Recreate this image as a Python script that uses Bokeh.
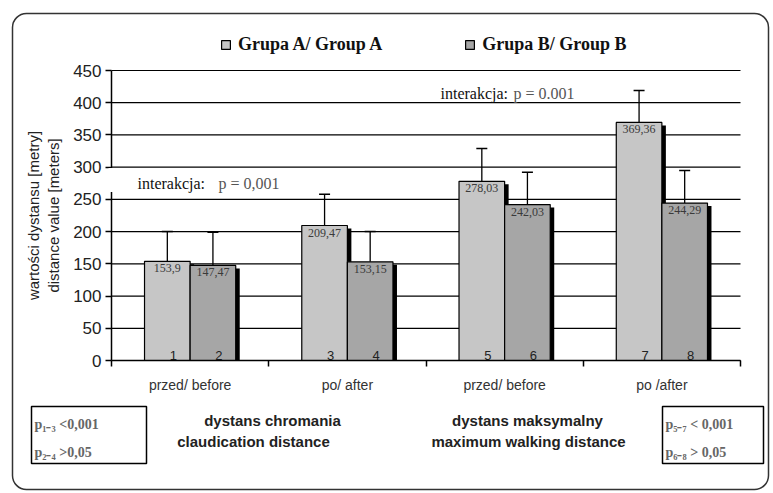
from bokeh.plotting import figure
from bokeh.models import (ColumnDataSource, Whisker, TeeHead, Legend, LegendItem,
                          Label, BoxAnnotation, FixedTicker, Range1d)
from bokeh.core.properties import value
from bokeh.embed import file_html
from bokeh.resources import INLINE

# ---- data ----
categories = ["przed/ before", "po/ after", "przed/ before", "po /after"]
series_names = ["Grupa A/ Group A", "Grupa B/ Group B"]
group_a = [153.9, 209.47, 278.03, 369.36]
group_b = [147.47, 153.15, 242.03, 244.29]
err_top_a = [200, 258, 329, 419]
err_top_b = [199, 200, 292, 295]
bar_numbers_a = ["1", "3", "5", "7"]
bar_numbers_b = ["2", "4", "6", "8"]
y_ticks = [0, 50, 100, 150, 200, 250, 300, 350, 400, 450]
section_titles = [["dystans chromania", "claudication distance"],
                  ["dystans maksymalny", "maximum walking distance"]]
p_left = ["p\u2081\u208b\u2083 <0,001", "p\u2082\u208b\u2084 >0,05"]
p_right = ["p\u2085\u208b\u2087 < 0,001", "p\u2086\u208b\u2088 > 0,05"]
interaction = ["interakcja:", "p = 0,001", "p = 0.001"]

# ---- geometry (canvas px) ----
W, H = 773, 493
FL, FR, FT, FB = 111, 740, 70, 360     # plot area inside the canvas
NCAT = len(categories)
YMAX = y_ticks[-1]


def dx(cx):
    return (cx - FL) / (FR - FL) * NCAT


def dy(cy):
    return (FB - cy) / (FB - FT) * YMAX


BW = 0.29
centers = [i + 0.5 for i in range(NCAT)]
xa = [c - BW / 2 for c in centers]
xb = [c + BW / 2 for c in centers]
sh_x = 4 / (FR - FL) * NCAT
sh_y = 3 / (FB - FT) * YMAX


def fmt(v):
    return ("%g" % v).replace(".", ",")


src_a = ColumnDataSource(dict(x=xa, top=group_a, err=err_top_a,
                              lbl=[fmt(v) for v in group_a], num=bar_numbers_a,
                              sx=[x + sh_x for x in xa], stop=[v - sh_y for v in group_a]))
src_b = ColumnDataSource(dict(x=xb, top=group_b, err=err_top_b,
                              lbl=[fmt(v) for v in group_b], num=bar_numbers_b,
                              sx=[x + sh_x for x in xb], stop=[v - sh_y for v in group_b]))

# the frame covers the whole canvas; axes are pinned at x=0 / y=0
p = figure(width=W, height=H, output_backend="svg", toolbar_location=None,
           x_range=Range1d(dx(0), dx(W)), y_range=Range1d(dy(H), dy(0)),
           min_border=0)
p.outline_line_color = None
p.background_fill_color = "white"
p.border_fill_color = "white"
p.grid.visible = False

# horizontal grid lines over the plot area
p.segment(x0=[0] * len(y_ticks), x1=[NCAT] * len(y_ticks), y0=y_ticks, y1=y_ticks,
          line_color="black", line_width=1.2)

# y axis
p.yaxis.fixed_location = 0
p.yaxis.bounds = (0, YMAX)
p.yaxis.ticker = FixedTicker(ticks=y_ticks)
p.yaxis.axis_line_color = "black"
p.yaxis.axis_line_width = 1.5
p.yaxis.major_tick_out = 6
p.yaxis.major_tick_in = 0
p.yaxis.major_tick_line_width = 1.5
p.yaxis.minor_tick_line_color = None
p.yaxis.major_label_text_font = "Liberation Sans"
p.yaxis.major_label_text_font_size = "17px"
p.yaxis.major_label_text_color = "#222222"
p.yaxis.major_label_standoff = 4
p.yaxis.axis_label = "wartości dystansu [metry]\ndistance value [meters]"
p.yaxis.axis_label_text_font = "Liberation Sans"
p.yaxis.axis_label_text_font_style = "normal"
p.yaxis.axis_label_text_font_size = "15px"
p.yaxis.axis_label_text_color = "#222222"
p.yaxis.axis_label_standoff = 8

# x axis
p.xaxis.fixed_location = 0
p.xaxis.bounds = (0, NCAT)
p.xaxis.ticker = FixedTicker(ticks=centers, minor_ticks=list(range(NCAT + 1)))
p.xaxis.major_label_overrides = {c: lab for c, lab in zip(centers, categories)}
p.xaxis.axis_line_color = "black"
p.xaxis.axis_line_width = 1.5
p.xaxis.major_tick_out = 0
p.xaxis.major_tick_in = 0
p.xaxis.minor_tick_out = 6
p.xaxis.minor_tick_in = 0
p.xaxis.minor_tick_line_color = "black"
p.xaxis.minor_tick_line_width = 1.5
p.xaxis.major_label_text_font = "Liberation Sans"
p.xaxis.major_label_text_font_size = "14px"
p.xaxis.major_label_text_color = "#333333"
p.xaxis.major_label_standoff = 10

# error bars (upward only)
for src in (src_a, src_b):
    p.add_layout(Whisker(source=src, base="x", lower="top", upper="err",
                         dimension="height", line_color="black", line_width=1.3,
                         upper_head=TeeHead(size=11, line_color="black", line_width=1.5),
                         lower_head=None))

# bars with shadows
p.vbar(x="sx", top="stop", width=BW, bottom=0, source=src_a, fill_color="black", line_color=None)
ra = p.vbar(x="x", top="top", width=BW, bottom=0, source=src_a,
            fill_color="#C6C6C6", line_color="black", line_width=1.2)
p.vbar(x="sx", top="stop", width=BW, bottom=0, source=src_b, fill_color="black", line_color=None)
rb = p.vbar(x="x", top="top", width=BW, bottom=0, source=src_b,
            fill_color="#A6A6A6", line_color="black", line_width=1.2)

for src in (src_a, src_b):
    p.text(x="x", y="top", text="lbl", source=src, text_font=value("Liberation Serif"),
           text_font_size="12px", text_align="center", text_baseline="top",
           y_offset=3, text_color="#3a3a3a")
    p.text(x="x", y=0, text="num", source=src, text_font=value("Liberation Sans"),
           text_font_size="13px", text_align="center", text_baseline="bottom",
           x_offset=6, y_offset=-1, text_color="#222222")

# legend above the plot area (location = bottom-left, px from canvas bottom-left)
legend = Legend(items=[LegendItem(label=series_names[0], renderers=[ra]),
                       LegendItem(label=series_names[1], renderers=[rb])],
                orientation="horizontal", location=(220, H - 55), spacing=82,
                glyph_width=11, glyph_height=11, label_standoff=7,
                padding=0, margin=0, border_line_color=None, background_fill_alpha=0,
                label_text_font="Liberation Serif", label_text_font_style="bold",
                label_text_font_size="18px", label_text_color="#111111")
p.add_layout(legend, "center")

# outer rounded frame
p.add_layout(BoxAnnotation(left=dx(12), right=dx(768), top=dy(13), bottom=dy(489),
                           fill_color=None, fill_alpha=0, line_color="#333333",
                           line_alpha=1, line_width=1.5, border_radius=14, level="overlay"))

# interaction annotations
p.add_layout(BoxAnnotation(left=dx(108), right=dx(292), top=dy(167.5), bottom=dy(191.5),
                           fill_color="white", fill_alpha=1, line_color=None,
                           level="annotation"))
for (cx, cy, txt, col) in [(137, 183, interaction[0], "#111111"),
                           (218, 183, interaction[1], "#555555"),
                           (440, 93, interaction[0], "#111111"),
                           (513, 93, interaction[2], "#555555")]:
    p.add_layout(Label(x=dx(cx), y=dy(cy), text=txt, text_font="Liberation Serif",
                       text_font_size="16px", text_color=col, text_baseline="middle",
                       text_align="left"))

# p-value boxes
for (l, r, lines) in [(31, 146, p_left), (662, 763, p_right)]:
    p.add_layout(BoxAnnotation(left=dx(l), right=dx(r), top=dy(406), bottom=dy(463),
                               fill_color="white", fill_alpha=1, line_color="black",
                               line_alpha=1, line_width=1.5))
    for k, t in enumerate(lines):
        p.add_layout(Label(x=dx(l + 3), y=dy(424 + 28 * k), text=t,
                           text_font="Liberation Serif", text_font_style="bold",
                           text_font_size="14px", text_color="#666666",
                           text_baseline="middle", text_align="left"))

# section titles under the axis
for (cxs, lines) in [((272, 253), section_titles[0]), ((527, 528), section_titles[1])]:
    for k, t in enumerate(lines):
        p.add_layout(Label(x=dx(cxs[k]), y=dy(420 + 21 * k), text=t,
                           text_font="Liberation Sans", text_font_style="bold",
                           text_font_size="15px", text_color="#222222",
                           text_baseline="middle", text_align="center"))

open("out.html", "w").write(file_html(p, INLINE))
